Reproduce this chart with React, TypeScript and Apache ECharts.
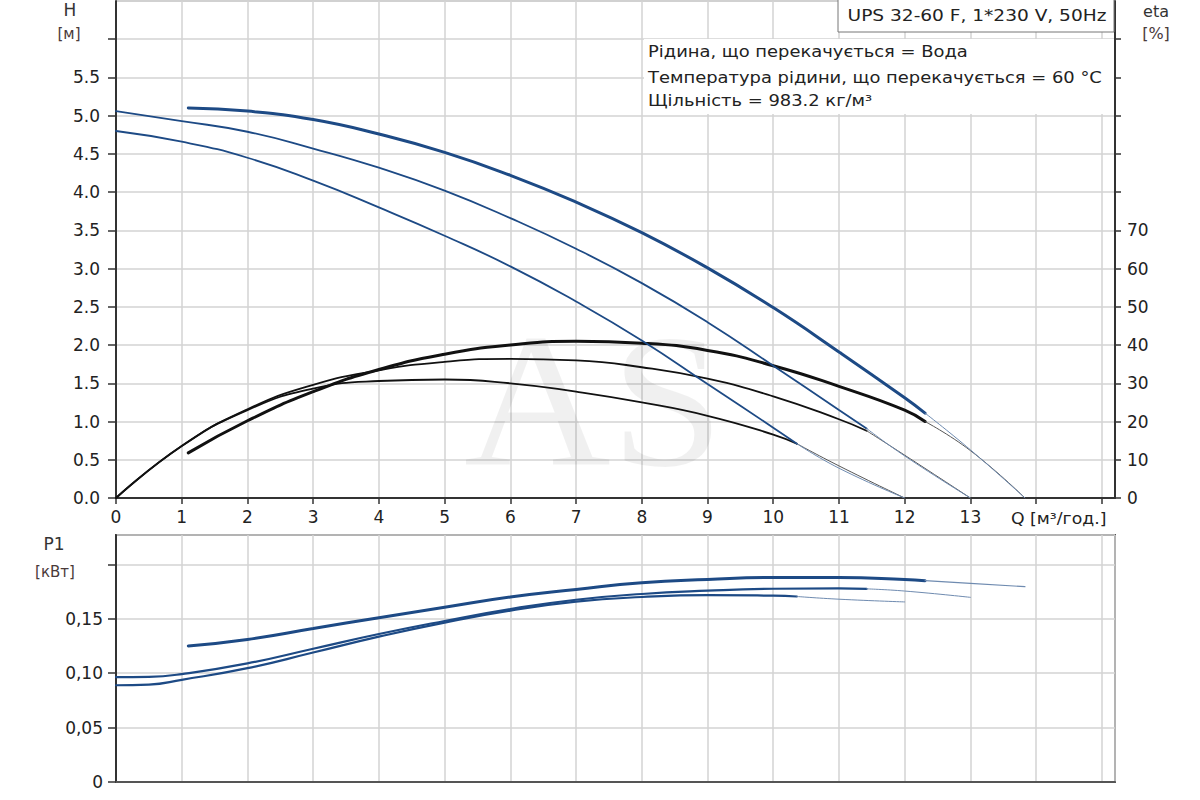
import React, { useEffect, useRef } from 'react';
import * as echarts from 'echarts';

// ---------- Q-H curves (H, m) ----------
const qH1 = [1.1, 2, 3, 4, 5, 6, 7, 8, 9, 10, 11, 12, 12.31];
const h1 = [5.1, 5.06, 4.95, 4.76, 4.52, 4.22, 3.87, 3.47, 3.01, 2.49, 1.91, 1.31, 1.11];
const qH1Tail = [12.31, 13, 13.83];
const h1Tail = [1.11, 0.63, 0];

const qH2 = [0, 1, 2, 3, 4, 5, 6, 7, 8, 9, 10, 11, 11.42];
const h2 = [5.06, 4.93, 4.79, 4.57, 4.32, 4.02, 3.66, 3.26, 2.81, 2.3, 1.73, 1.15, 0.91];
const qH2Tail = [11.42, 12, 13];
const h2Tail = [0.91, 0.55, 0];

const qH3 = [0, 1, 2, 3, 4, 5, 6, 7, 8, 9, 10, 10.36];
const h3 = [4.8, 4.66, 4.45, 4.15, 3.8, 3.43, 3.03, 2.57, 2.06, 1.49, 0.92, 0.71];
const qH3Tail = [10.36, 11, 12];
const h3Tail = [0.71, 0.39, 0];

// ---------- Efficiency curves (eta, %) ----------
const qE1 = [1.1, 2, 3, 4, 5, 6, 7, 8, 9, 10, 11, 12, 12.31];
const e1 = [11.8, 20.2, 27.8, 33.6, 37.6, 40, 41, 40.5, 38.6, 34.6, 29.2, 23, 20];
const qE1Tail = [12.31, 13, 13.83];
const e1Tail = [20, 12.4, 0];

const qE2 = [0, 1, 2, 3, 4, 5, 6, 7, 8, 9, 10, 11, 11.42];
const e2 = [0, 13.6, 23.2, 29.6, 33.4, 35.6, 36.4, 36, 34.2, 31.2, 26.6, 20.6, 17.6];
const qE2Tail = [11.42, 12, 13];
const e2Tail = [17.6, 11.2, 0];

const qE3 = [0, 1, 2, 3, 4, 5, 6, 7, 8, 9, 10, 10.36];
const e3 = [0, 13.6, 23, 28.6, 30.6, 31, 30, 27.8, 25, 21.5, 16.6, 14.2];
const qE3Tail = [10.36, 11, 12];
const e3Tail = [14.2, 8.4, 0];

// ---------- Power curves (P1, kW) ----------
const qP1 = [1.1, 2, 3, 4, 5, 6, 7, 8, 9, 10, 11, 12, 12.31];
const p1 = [0.125, 0.131, 0.141, 0.151, 0.1606, 0.17, 0.177, 0.1832, 0.1862, 0.188, 0.188, 0.1862, 0.185];
const qP1Tail = [12.31, 13, 13.83];
const p1Tail = [0.185, 0.1826, 0.1795];

const qP2 = [0, 0.5, 1, 2, 3, 4, 5, 6, 7, 8, 9, 10, 11, 11.42];
const p2 = [0.0963, 0.0966, 0.0992, 0.109, 0.1225, 0.136, 0.148, 0.159, 0.1675, 0.1728, 0.1758, 0.1776, 0.178, 0.1775];
const qP2Tail = [11.42, 12, 13];
const p2Tail = [0.1775, 0.1755, 0.1697];

const qP3 = [0, 0.5, 1, 2, 3, 4, 5, 6, 7, 8, 9, 10, 10.36];
const p3 = [0.0889, 0.0895, 0.0939, 0.1046, 0.119, 0.1336, 0.1465, 0.1575, 0.1657, 0.17, 0.1718, 0.1712, 0.1705];
const qP3Tail = [10.36, 11, 12];
const p3Tail = [0.1705, 0.168, 0.1655];

// ---------- Tick labels ----------
const qTickLabels = ['0', '1', '2', '3', '4', '5', '6', '7', '8', '9', '10', '11', '12', '13'];
const hTickLabels = ['0.0', '0.5', '1.0', '1.5', '2.0', '2.5', '3.0', '3.5', '4.0', '4.5', '5.0', '5.5'];
const etaTickLabels = ['0', '10', '20', '30', '40', '50', '60', '70'];
const pTickLabels = ['0', '0,05', '0,10', '0,15'];

// ---------- Texts ----------
const titleText = 'UPS 32-60 F, 1*230 V, 50Hz';
const infoLines = [
  'Рідина, що перекачується = Вода',
  'Температура рідини, що перекачується = 60 °C',
  'Щільність = 983.2 кг/м³',
];

const FONT = '"DejaVu Sans", "Liberation Sans", sans-serif';
const BLUE = '#1d4a85';
const BLUE_THIN = '#6f8bb0';
const BLACK = '#111111';
const BLACK_THIN = '#555555';
const GRID = '#d3d3d3';

function pickLabel(labels: string[], step: number) {
  return (v: number) => {
    const i = Math.round(v / step);
    if (Math.abs(v - i * step) > step * 1e-3) return '';
    return i >= 0 && i < labels.length ? labels[i] : '';
  };
}

function zip(qs: number[], vs: number[]) {
  return qs.map((q, i) => [q, vs[i]]);
}

function line(qs: number[], vs: number[], xi: number, yi: number, color: string, width: number, z = 3) {
  return {
    type: 'line',
    xAxisIndex: xi,
    yAxisIndex: yi,
    data: zip(qs, vs),
    showSymbol: false,
    symbol: 'none',
    smooth: 0.5,
    silent: true,
    z,
    lineStyle: { color, width, cap: 'round' },
  };
}

function buildOption() {
  const labelStyle = { fontFamily: FONT, fontSize: 17, color: '#222' };
  const splitLine = { show: true, lineStyle: { color: GRID, width: 1.5 } };
  const axisLineDark = { show: true, onZero: false, lineStyle: { color: '#333', width: 2 } };

  const series: any[] = [
    // efficiency (black)
    line(qE3, e3, 0, 1, BLACK, 1.8),
    line(qE3Tail, e3Tail, 0, 1, BLACK_THIN, 1),
    line(qE2, e2, 0, 1, BLACK, 1.8),
    line(qE2Tail, e2Tail, 0, 1, BLACK_THIN, 1),
    line(qE1, e1, 0, 1, BLACK, 3),
    line(qE1Tail, e1Tail, 0, 1, BLACK_THIN, 1),
    // Q-H (blue)
    line(qH3, h3, 0, 0, BLUE, 1.8, 4),
    line(qH3Tail, h3Tail, 0, 0, BLUE_THIN, 1, 4),
    line(qH2, h2, 0, 0, BLUE, 1.8, 4),
    line(qH2Tail, h2Tail, 0, 0, BLUE_THIN, 1, 4),
    line(qH1, h1, 0, 0, BLUE, 3, 4),
    line(qH1Tail, h1Tail, 0, 0, BLUE_THIN, 1, 4),
    // P1 (blue)
    line(qP3, p3, 1, 2, BLUE, 2.2),
    line(qP3Tail, p3Tail, 1, 2, BLUE_THIN, 1),
    line(qP2, p2, 1, 2, BLUE, 2.2),
    line(qP2Tail, p2Tail, 1, 2, BLUE_THIN, 1),
    line(qP1, p1, 1, 2, BLUE, 3),
    line(qP1Tail, p1Tail, 1, 2, BLUE_THIN, 1.2),
  ];

  const txt = (text: string, x: number, y: number, opts: any = {}) => ({
    type: 'text',
    x,
    y,
    z: 20,
    silent: true,
    scaleX: opts.scaleX ?? 1,
    style: {
      text,
      fill: opts.color ?? '#222',
      fontFamily: opts.fontFamily ?? FONT,
      fontSize: opts.fontSize ?? 16,
      align: opts.align ?? 'left',
      verticalAlign: 'middle',
    },
  });

  const graphic: any[] = [
    // watermark
    {
      type: 'text',
      x: 464,
      y: 401,
      z: 1,
      silent: true,
      scaleX: 1.07,
      style: {
        text: 'AS',
        fill: 'rgba(0,0,0,0.06)',
        fontFamily: '"Liberation Serif", "DejaVu Serif", serif',
        fontSize: 190,
        align: 'left',
        verticalAlign: 'middle',
      },
    },
    // info box
    { type: 'rect', z: 15, silent: true, shape: { x: 644, y: 39, width: 470, height: 75 }, style: { fill: '#fff' } },
    txt(infoLines[0], 648, 51, { scaleX: 1.12 }),
    txt(infoLines[1], 648, 77, { scaleX: 1.12 }),
    txt(infoLines[2], 648, 100, { scaleX: 1.12 }),
    // title box
    {
      type: 'rect', z: 15, silent: true,
      shape: { x: 838, y: -2, width: 276, height: 34 },
      style: { fill: '#fff', stroke: '#777', lineWidth: 1 },
    },
    txt(titleText, 977, 15, { align: 'center', scaleX: 1.16 }),
    // axis names
    txt('H', 70, 10, { align: 'center', fontSize: 17, color: '#333' }),
    txt('[м]', 69, 34, { align: 'center', fontSize: 15, color: '#4a3a3a' }),
    txt('eta', 1156, 11, { align: 'center', fontSize: 16, color: '#333' }),
    txt('[%]', 1156, 33, { align: 'center', fontSize: 16, color: '#4a3a3a' }),
    txt('P1', 54, 544, { align: 'center', fontSize: 17, color: '#333' }),
    txt('[кВт]', 55, 572, { align: 'center', fontSize: 15, color: '#4a3a3a' }),
    txt('Q [м³/год.]', 1011, 519, { align: 'left', fontSize: 16, color: '#222', scaleX: 1.08 }),
  ];

  return {
    animation: false,
    backgroundColor: '#fff',
    grid: [
      { left: 116, right: 85, top: 1, height: 497, show: true, borderColor: '#999', borderWidth: 1, backgroundColor: 'transparent' },
      { left: 116, right: 85, top: 535, height: 247, show: true, borderColor: '#555', borderWidth: 2, backgroundColor: 'transparent' },
    ],
    xAxis: [
      {
        gridIndex: 0, type: 'value', min: 0, max: 15.2, interval: 1,
        axisLine: axisLineDark,
        axisTick: { show: true, length: 6, lineStyle: { color: '#333', width: 1.5 } },
        axisLabel: { ...labelStyle, margin: 10, formatter: pickLabel(qTickLabels, 1), showMaxLabel: false },
        splitLine,
      },
      {
        gridIndex: 1, type: 'value', min: 0, max: 15.2, interval: 1,
        axisLine: { show: true, onZero: false, lineStyle: { color: '#555', width: 2 } },
        axisTick: { show: false },
        axisLabel: { show: false },
        splitLine,
      },
    ],
    yAxis: [
      {
        gridIndex: 0, type: 'value', min: 0, max: 6.5, interval: 0.5, position: 'left',
        axisLine: axisLineDark,
        axisTick: { show: true, length: 8, lineStyle: { color: '#333', width: 1.5 } },
        axisLabel: { ...labelStyle, margin: 16, formatter: pickLabel(hTickLabels, 0.5), showMaxLabel: false },
        splitLine,
      },
      {
        gridIndex: 0, type: 'value', min: 0, max: 130, interval: 10, position: 'right',
        axisLine: axisLineDark,
        axisTick: { show: true, length: 6, lineStyle: { color: '#333', width: 1.5 } },
        axisLabel: { ...labelStyle, margin: 12, formatter: pickLabel(etaTickLabels, 10), showMaxLabel: false },
        splitLine: { show: false },
      },
      {
        gridIndex: 1, type: 'value', min: 0, max: 0.227, interval: 0.05, position: 'left',
        axisLine: axisLineDark,
        axisTick: { show: true, length: 8, lineStyle: { color: '#333', width: 1.5 } },
        axisLabel: { ...labelStyle, margin: 13, formatter: pickLabel(pTickLabels, 0.05), showMaxLabel: false },
        splitLine,
      },
    ],
    series,
    graphic,
  };
}

export default function App() {
  const ref = useRef<HTMLDivElement>(null);
  useEffect(() => {
    if (!ref.current) return;
    const chart = echarts.init(ref.current, undefined, { renderer: 'svg' });
    chart.setOption(buildOption() as any);
    return () => chart.dispose();
  }, []);
  return (
    <div
      ref={ref}
      style={{ position: 'absolute', left: 0, top: 0, width: 1200, height: 800, background: '#fff' }}
    />
  );
}
